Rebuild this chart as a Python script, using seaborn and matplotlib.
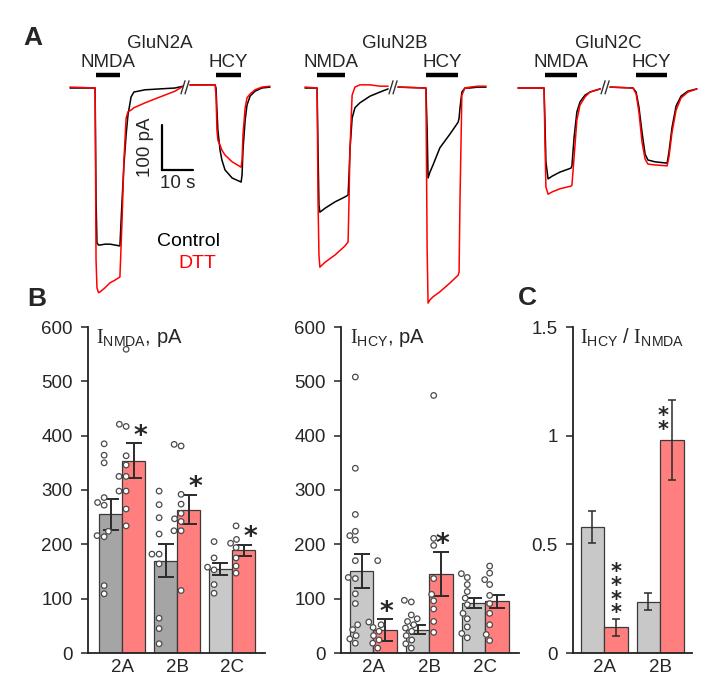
import numpy as np
import pandas as pd
import matplotlib
matplotlib.use("Agg")
import matplotlib.pyplot as plt
import matplotlib.transforms as mtransforms
import seaborn as sns

# ---------------- panel A: whole-cell currents (time in s, current in pA) ----------------
# GluN2A
a_nmda_t = [0, 8.1, 8.4, 8.7, 9.2, 9.7, 11.3, 12.9, 14.5, 16.1, 16.8, 17.4, 18.1, 18.7, 19.7, 20.6, 24.2, 29.0, 33.9, 36.5]
a_nmda_ctrl = [0, 0, -249, -344, -349, -349, -347, -347, -349, -351, -249, -171, -104, -60, -20, -9, -4, -2, 0, 4]
a_nmda_dtt = [2, 0, -382, -444, -455, -453, -444, -433, -427, -420, -293, -160, -67, -53, -49, -44, -33, -20, -7, 4]
a_hcy_t = [38.7, 46.8, 47.1, 47.4, 47.7, 48.4, 49.0, 50.0, 52.3, 55.2, 55.5, 55.8, 56.5, 57.1, 58.1, 59.7, 61.9, 64.5]
a_hcy_ctrl = [7, 7, 0, -49, -93, -138, -160, -182, -200, -209, -193, -138, -71, -38, -18, -7, 0, 2]
a_hcy_dtt = [7, 7, -16, -93, -116, -127, -138, -149, -164, -176, -160, -104, -44, -22, -13, -4, 2, 4]
# GluN2B
b_nmda_t = [0, 3.9, 4.2, 4.5, 4.8, 6.5, 9.7, 12.9, 13.9, 14.2, 14.5, 15.2, 16.1, 17.7, 21.0, 24.2, 26.8]
b_nmda_ctrl = [0, 0, -138, -260, -276, -267, -253, -242, -238, -193, -138, -67, -44, -33, -18, -9, -2]
b_nmda_dtt = [2, 0, -249, -371, -398, -387, -371, -351, -342, -249, -138, -16, 2, 7, 7, 4, 4]
b_hcy_t = [30.0, 39.0, 39.4, 39.7, 40.3, 41.3, 43.5, 46.8, 49.4, 49.7, 50.0, 50.6, 51.6, 53.2, 55.8, 58.4]
b_hcy_ctrl = [2, 0, -93, -200, -187, -171, -133, -102, -76, -67, -44, -9, 0, 0, 2, 2]
b_hcy_dtt = [2, 0, -360, -478, -471, -464, -453, -433, -416, -409, -249, -16, 0, 2, 4, 4]
# GluN2C
c_nmda_t = [0, 8.4, 8.7, 9.0, 9.7, 11.0, 13.5, 17.1, 17.4, 18.1, 19.0, 20.0, 21.6, 23.2, 26.5]
c_nmda_ctrl = [0, 0, -76, -164, -202, -196, -187, -178, -173, -109, -53, -31, -16, -9, -2]
c_nmda_dtt = [0, 0, -120, -220, -236, -231, -224, -218, -216, -153, -71, -38, -20, -9, -2]
c_hcy_t = [29.7, 37.1, 38.1, 39.0, 40.0, 41.0, 41.9, 44.2, 48.1, 48.7, 49.7, 51.0, 52.6, 54.8, 57.7]
c_hcy_ctrl = [2, 0, -9, -42, -98, -147, -160, -164, -167, -142, -87, -40, -18, -7, -2]
c_hcy_dtt = [2, 0, -13, -53, -120, -158, -169, -171, -173, -153, -98, -49, -22, -9, -2]

receptors = ["GluN2A", "GluN2B", "GluN2C"]
nmda_application = [(8.4, 16.1), (3.9, 12.9), (8.7, 19.0)]
hcy_application = [(47.1, 55.2), (39.0, 49.4), (38.1, 48.1)]
break_time = [37.1, 28.4, 28.1]

# ---------------- panel B / C: summary data ----------------
groups = ["2A", "2B", "2C"]
nmda_ctrl_mean = [255, 170, 155]
nmda_ctrl_sem = [28, 30, 11]
nmda_dtt_mean = [354, 264, 189]
nmda_dtt_sem = [32, 27, 10]
nmda_ctrl_pts = [[385, 364, 350, 286, 277, 272, 224, 216, 214, 124, 109],
                 [298, 273, 249, 219, 182, 182, 164, 64, 45, 17],
                 [205, 175, 158, 153, 126, 110]]
nmda_dtt_pts = [[559, 421, 417, 363, 346, 325, 325, 298, 298, 265, 234],
                [384, 381, 292, 274, 257, 247, 242, 225, 225, 115],
                [234, 209, 202, 194, 175, 160, 147]]

hcy_ctrl_mean = [151, 43, 92]
hcy_ctrl_sem = [32, 8, 10]
hcy_dtt_mean = [42, 145, 95]
hcy_dtt_sem = [20, 41, 12]
hcy_ctrl_pts = [[508, 340, 255, 224, 216, 208, 170, 139, 137, 109, 91, 52, 43, 32, 26, 18],
                [97, 94, 70, 63, 58, 52, 46, 40, 32, 24, 17, 9],
                [146, 139, 126, 113, 101, 89, 73, 63, 48, 36, 28]]
hcy_dtt_pts = [[170, 57, 52, 47, 40, 32, 24, 18, 9],
               [474, 211, 198, 137, 108, 96, 81, 58, 38],
               [160, 147, 135, 126, 106, 91, 73, 52, 34, 23]]

ratio_groups = ["2A", "2B"]
ratio_ctrl_mean = [0.58, 0.236]
ratio_ctrl_sem = [0.073, 0.04]
ratio_dtt_mean = [0.118, 0.98]
ratio_dtt_sem = [0.038, 0.185]

nmda_stars = ["*", "*", "*"]
hcy_stars = ["*", "*", ""]
ratio_stars = ["****", "**"]

GREY_DARK = "#a5a5a5"
GREY = "#c8c8c8"
SALMON = "#ff7f7f"
EDGE = "#3a3a3a"

sns.set_theme(style="white")
plt.rcParams["font.family"] = ["Liberation Sans", "DejaVu Sans"]
plt.rcParams["mathtext.fontset"] = "custom"
plt.rcParams["mathtext.rm"] = "Liberation Serif"
plt.rcParams["mathtext.sf"] = "Liberation Sans"

W, H = 720, 694
fig = plt.figure(figsize=(7.2, 6.94), dpi=100)


def box(x0, y0, x1, y1):
    return [x0 / W, 1 - y1 / H, (x1 - x0) / W, (y1 - y0) / H]


def ftext(x, y, s, **kw):
    fig.text(x / W, 1 - y / H, s, **kw)


# ---------- panel A ----------
PX_PER_S = 3.1
PX_PER_PA = 0.45
axA = fig.add_axes(box(0, 0, 720, 310))
axA.set_xlim(0, W / PX_PER_S)
axA.set_ylim(-(310 - 88) / PX_PER_PA, 88 / PX_PER_PA)
axA.axis("off")

trace_sets = [
    (a_nmda_t, a_nmda_ctrl, a_nmda_dtt, a_hcy_t, a_hcy_ctrl, a_hcy_dtt),
    (b_nmda_t, b_nmda_ctrl, b_nmda_dtt, b_hcy_t, b_hcy_ctrl, b_hcy_dtt),
    (c_nmda_t, c_nmda_ctrl, c_nmda_dtt, c_hcy_t, c_hcy_ctrl, c_hcy_dtt),
]
trace_start_px = [70, 305, 518]

for k, (nt, nc, nd, ht, hc, hd) in enumerate(trace_sets):
    t0 = trace_start_px[k] / PX_PER_S
    for t, cur, col in [(nt, nc, "black"), (ht, hc, "black"), (nt, nd, "red"), (ht, hd, "red")]:
        sns.lineplot(x=np.array(t) + t0, y=cur, color=col, lw=1.1, ax=axA,
                     estimator=None, sort=False)
    # drug application bars and labels
    for (s, e), lab in [(nmda_application[k], "NMDA"), (hcy_application[k], "HCY")]:
        axA.plot([s + t0, e + t0], [29, 29], color="black", lw=3.2, solid_capstyle="butt")
        axA.text((s + e) / 2 + t0, 57, lab, ha="center", va="center", fontsize=13.5)
    axA.text(29 + t0, 100, receptors[k], ha="center", va="center", fontsize=13.5)
    # axis break marks
    tb = break_time[k] + t0
    for dx in (-0.65, 0.65):
        axA.plot([tb + dx - 0.65, tb + dx + 0.65], [-13, 16], color="#333333", lw=1.0)

# scale bar 100 pA / 10 s
sx, sy = 162 / PX_PER_S, -(170 - 88) / PX_PER_PA
axA.plot([sx, sx, sx + 10], [sy + 100, sy, sy], color="black", lw=1.6, solid_joinstyle="miter")
ftext(146, 147, "100 pA", rotation=90, ha="center", va="center", fontsize=13.5)
ftext(178, 184, "10 s", ha="center", va="center", fontsize=13.5)
ftext(188, 242, "Control", ha="center", va="center", fontsize=14, color="black")
ftext(197, 263, "DTT", ha="center", va="center", fontsize=14, color="red")

ftext(33, 38, "A", ha="center", va="center", fontsize=19, fontweight="bold")
ftext(37, 299, "B", ha="center", va="center", fontsize=19, fontweight="bold")
ftext(527, 298, "C", ha="center", va="center", fontsize=19, fontweight="bold")


# ---------- panels B and C ----------
def style_axis(ax, xlim, ylim, yticks, yticklabels):
    ax.set_xlim(*xlim)
    ax.set_ylim(*ylim)
    ax.set_yticks(yticks)
    ax.set_yticklabels(yticklabels)
    ax.set_xlabel("")
    ax.set_ylabel("")
    sns.despine(ax=ax)
    for sp in ("left", "bottom"):
        ax.spines[sp].set_linewidth(1.3)
        ax.spines[sp].set_color("#222222")
    ax.tick_params(axis="y", direction="out", length=5, width=1.1, color="#222222",
                   labelsize=13.5, pad=6, left=True)
    ax.tick_params(axis="x", length=0, labelsize=13.5, pad=4)


def bar_panel(ax, grp, cm, cs, dm, ds, ctrl_colors, cpts=None, dpts=None,
              capsize=5.5, elw=1.4):
    n = len(grp)
    summ = pd.DataFrame({"group": grp * 2,
                         "cond": ["Control"] * n + ["DTT"] * n,
                         "value": cm + dm})
    sns.barplot(data=summ, x="group", y="value", hue="cond", order=grp,
                hue_order=["Control", "DTT"],
                palette={"Control": GREY, "DTT": SALMON}, errorbar=None,
                saturation=1, width=0.84, edgecolor=EDGE, linewidth=0.9,
                legend=False, ax=ax)
    for bar, c in zip(ax.containers[0], ctrl_colors):
        bar.set_facecolor(c)
    if cpts is not None:
        rows = []
        for g, pc, pd_ in zip(grp, cpts, dpts):
            rows += [(g, "Control", v) for v in pc]
            rows += [(g, "DTT", v) for v in pd_]
        pts = pd.DataFrame(rows, columns=["group", "cond", "value"])
        before = len(ax.collections)
        sns.swarmplot(data=pts, x="group", y="value", hue="cond", order=grp,
                      hue_order=["Control", "DTT"], dodge=True,
                      palette={"Control": "white", "DTT": "white"},
                      edgecolor="#4a4a4a", linewidth=0.9, size=4.0,
                      legend=False, ax=ax)
        shift = mtransforms.ScaledTranslation(-5 / 72, 0, fig.dpi_scale_trans)
        for coll in ax.collections[before:]:
            coll.set_offset_transform(ax.transData + shift)
            coll.set_zorder(4)
    centers = []
    for cont, means, sems in zip(ax.containers[:2], (cm, dm), (cs, ds)):
        xs = [b.get_x() + b.get_width() / 2 for b in cont]
        centers.append(xs)
        ax.errorbar(xs, means, yerr=sems, fmt="none", ecolor="#2b2b2b",
                    elinewidth=elw, capsize=capsize, capthick=elw, zorder=3)
    return centers


axB1 = fig.add_axes(box(88, 327, 265, 653))
cen = bar_panel(axB1, groups, nmda_ctrl_mean, nmda_ctrl_sem, nmda_dtt_mean, nmda_dtt_sem,
                [GREY_DARK, GREY_DARK, GREY], nmda_ctrl_pts, nmda_dtt_pts)
style_axis(axB1, (-0.62, 2.6), (0, 600), range(0, 601, 100), [str(v) for v in range(0, 601, 100)])
for x, m, s, st in zip(cen[1], nmda_dtt_mean, nmda_dtt_sem, nmda_stars):
    axB1.text(x + 0.13, m + s + 12, st, ha="center", va="center", fontsize=19,
              fontweight="bold", family="DejaVu Sans", zorder=5)
axB1.text(0.045, 1.0, r"$\mathrm{I}_\mathsf{NMDA}$, pA", transform=axB1.transAxes,
          ha="left", va="top", fontsize=14.5)

axB2 = fig.add_axes(box(341, 327, 519, 653))
cen = bar_panel(axB2, groups, hcy_ctrl_mean, hcy_ctrl_sem, hcy_dtt_mean, hcy_dtt_sem,
                [GREY, GREY, GREY], hcy_ctrl_pts, hcy_dtt_pts)
style_axis(axB2, (-0.58, 2.6), (0, 600), range(0, 601, 100), [str(v) for v in range(0, 601, 100)])
for x, m, s, st in zip(cen[1], hcy_dtt_mean, hcy_dtt_sem, hcy_stars):
    axB2.text(x + 0.03, m + s + 12, st, ha="center", va="center", fontsize=19,
              fontweight="bold", family="DejaVu Sans", zorder=5)
axB2.text(0.05, 1.0, r"$\mathrm{I}_\mathsf{HCY}$, pA", transform=axB2.transAxes,
          ha="left", va="top", fontsize=14.5)

axC = fig.add_axes(box(573, 327, 692, 653))
cen = bar_panel(axC, ratio_groups, ratio_ctrl_mean, ratio_ctrl_sem, ratio_dtt_mean, ratio_dtt_sem,
                [GREY, GREY], capsize=3, elw=1.1)
style_axis(axC, (-0.554, 1.571), (0, 1.5), [0, 0.5, 1, 1.5], ["0", "0.5", "1", "1.5"])
# stacked significance stars (one text per stack)
axC.text(cen[1][0], ratio_dtt_mean[0] + ratio_dtt_sem[0] - 0.02, "\n".join(ratio_stars[0]),
         ha="center", va="bottom", fontsize=15, fontweight="bold", family="DejaVu Sans",
         linespacing=0.62)
axC.text(cen[1][1] - 0.15, ratio_dtt_mean[1] + 0.0, "\n".join(ratio_stars[1]),
         ha="center", va="bottom", fontsize=15, fontweight="bold", family="DejaVu Sans",
         linespacing=0.62)
axC.text(0.06, 1.0, r"$\mathrm{I}_\mathsf{HCY}$ / $\mathrm{I}_\mathsf{NMDA}$",
         transform=axC.transAxes, ha="left", va="top", fontsize=14.5)

fig.savefig("out.png", dpi=100)
